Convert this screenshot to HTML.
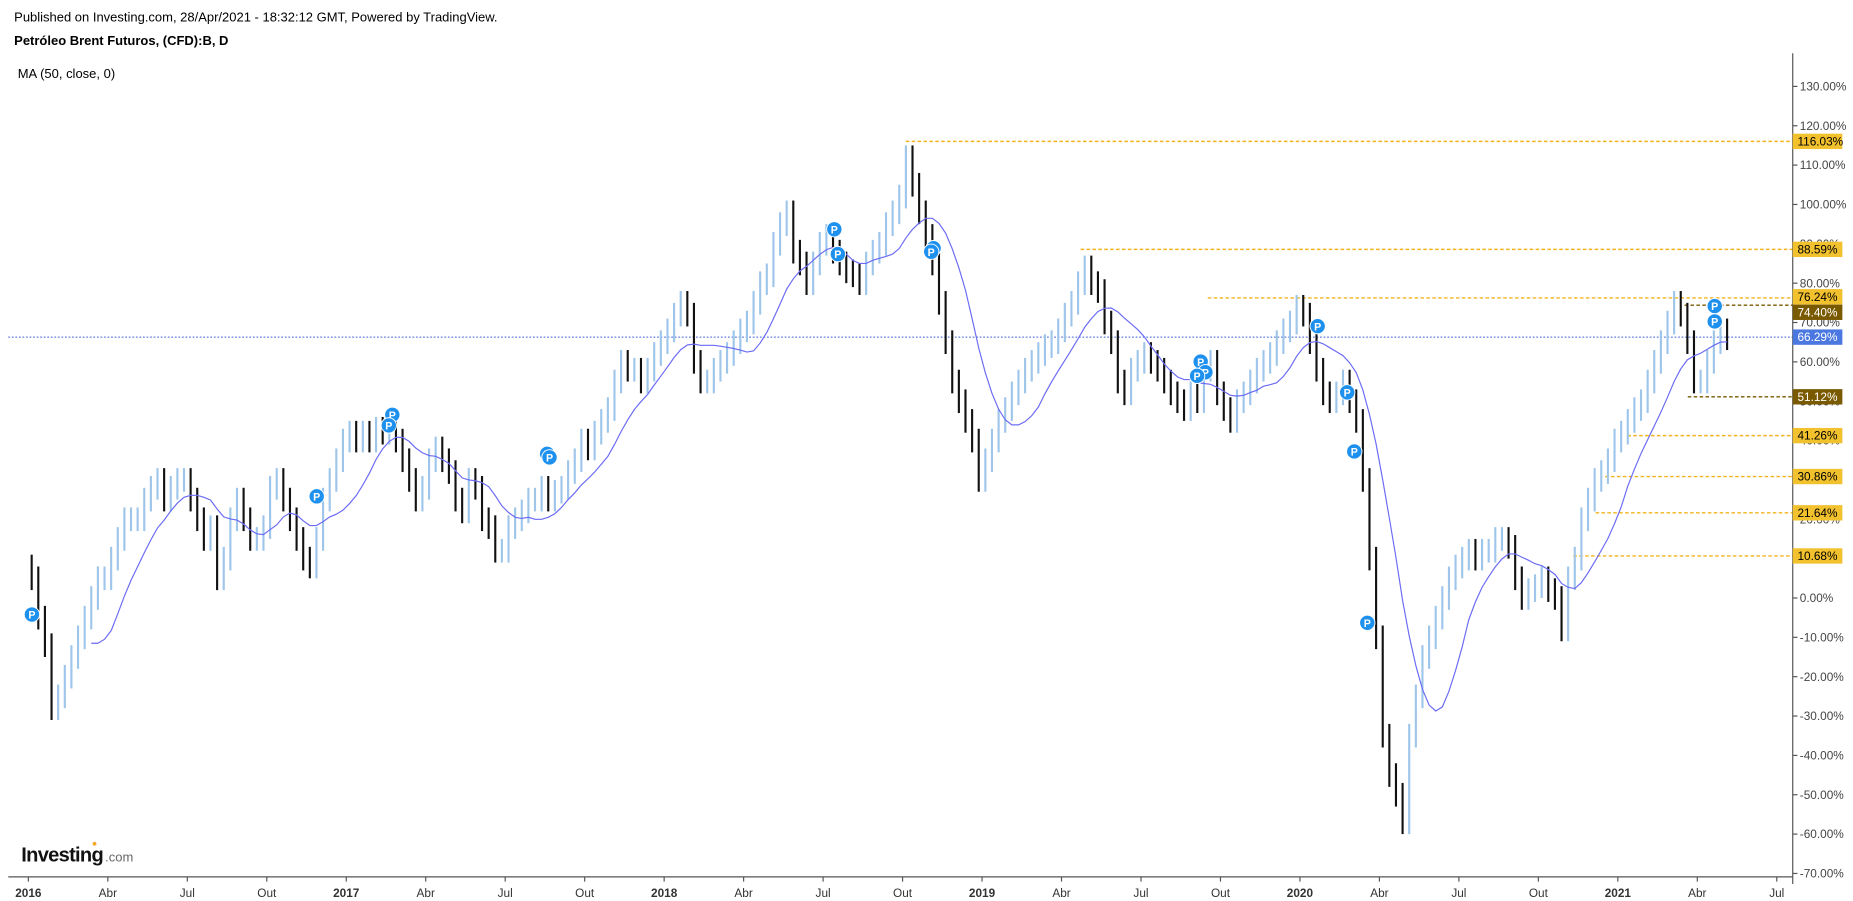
<!DOCTYPE html>
<html><head><meta charset="utf-8"><style>
html,body{margin:0;padding:0;background:#fff;}
svg{display:block;font-family:"Liberation Sans",Arial,sans-serif;}
</style></head><body>
<svg id="chart" width="1853" height="901" viewBox="0 0 1568 762.4" xmlns="http://www.w3.org/2000/svg">
<text x="12" y="18" font-size="11" fill="#000">Published on Investing.com, 28/Apr/2021 - 18:32:12 GMT, Powered by TradingView.</text>
<text x="12" y="38" font-size="11" font-weight="bold" fill="#000">Petróleo Brent Futuros, (CFD):B, D</text>
<text x="15" y="66" font-size="11" fill="#000">MA (50, close, 0)</text>
<g id="levels"></g>
<g id="bars"></g>
<g id="ma"></g>
<g id="markers"></g>
<g id="axes"></g>
<g>
<text x="18" y="729" font-size="17" font-weight="bold" fill="#111" letter-spacing="-0.6">Investing</text>
<text x="89" y="729" font-size="11" fill="#666">.com</text>
<circle cx="80" cy="714" r="1.6" fill="#f5a623"/>
</g>
</svg>
<script>
const closes = [
5,-5,-12,-28, -25,-20,-15,-10, -5,0,5,5, 10,15,20,20, 20,25,28,30, 25,28,30,30,
25,20,15,18, 5,10,20,25, 20,15,15,18, 28,30,25,20, 15,10,8,15, 25,30,35,40,
42,40,42,40, 43,42,44,40, 35,30,25,28, 35,38,35,32, 25,22,30,28, 20,18,12,12,
18,20,22,25, 25,28,25,27, 28,32,35,40, 38,42,45,48, 55,60,58,58, 55,58,62,65,
68,72,75,72, 60,55,55,58, 60,62,65,68, 70,75,80,82, 90,95,98,88, 85,80,85,90,
92,88,85,83, 82,80,85,88, 90,95,98,102, 112,105,98,92, 85,75,65,55, 50,45,40,30,
35,40,45,48, 52,55,58,60, 62,64,65,68, 72,75,80,84, 80,78,70,65, 55,52,58,60,
62,60,58,55, 52,50,48,52, 50,58,60,52, 48,45,50,52, 55,58,60,62, 65,68,70,74,
72,65,58,52, 50,52,55,50, 45,30,10,-10, -35,-45,-50,-57, -35,-25,-15,-10, -5,0,5,8,
10,12,10,12, 12,15,15,13, 5,0,2,3, 5,2,0,-8, 5,10,20,25, 30,32,35,40,
42,45,48,50, 55,60,65,70, 75,72,65,55, 55,60,65,68,66
];
const yTicks = [130,120,110,100,90,80,70,60,50,40,30,20,10,0,-10,-20,-30,-40,-50,-60,-70];
const xTickLabels = ["2016","Abr","Jul","Out","2017","Abr","Jul","Out","2018","Abr","Jul","Out","2019","Abr","Jul","Out","2020","Abr","Jul","Out","2021","Abr","Jul"];
const levelValues = [116.03,88.59,76.24,74.40,51.12,41.26,30.86,21.64,10.68];
const levelStart = [2018.76,2019.31,2019.71,2021.21,2021.22,2021.03,2020.96,2020.93,2020.86];
const levelKind = ["o","o","o","b","b","o","o","o","o"];
const lastPrice = 66.29;
const maPeriod = 10;

const NS="http://www.w3.org/2000/svg";
const y = v => 506 - v*3.33;
const xt = t => 24 + (t-2016)*269;
const xi = i => xt(2016 + (i+0.5)/48);
function mk(tag, attrs, parent){const e=document.createElementNS(NS,tag);for(const k in attrs)e.setAttribute(k,attrs[k]);parent.appendChild(e);return e;}

const bars=document.getElementById('bars');
closes.forEach((c,i)=>{
  const p = i>0?closes[i-1]:c+3;
  const hi=Math.max(p,c)+3, lo=Math.min(p,c)-3;
  const l=mk('line',{x1:xi(i),x2:xi(i),y1:y(hi),y2:y(lo),stroke:c>=p?'#9ec5ea':'#111','stroke-width':1.8},bars);
  
  
});

const maG=document.getElementById('ma');
let pts=[];
for(let i=maPeriod-1;i<closes.length;i++){let s=0;for(let k=0;k<maPeriod;k++)s+=closes[i-k];pts.push(xi(i).toFixed(1)+','+y(s/maPeriod).toFixed(1));}
const ml=mk('polyline',{points:pts.join(' '),fill:'none',stroke:'#6b6bf5','stroke-width':1},maG);



const lv=document.getElementById('levels');
const ax=document.getElementById('axes');
const cp=mk('line',{x1:7,x2:1517,y1:y(lastPrice),y2:y(lastPrice),stroke:'#3f5fd8','stroke-width':0.8,'stroke-dasharray':'1.5,1.5'},lv);


levelValues.forEach((v,i)=>{
  const col=levelKind[i]==='o'?'#f2b41c':'#7a5a00';
  const l=mk('line',{x1:xt(levelStart[i]),x2:1517,y1:y(v),y2:y(v),stroke:col,'stroke-width':1.2,'stroke-dasharray':'3,2'},lv);
  
  
});

const ya=mk('line',{x1:1517,x2:1517,y1:45,y2:748,stroke:'#555','stroke-width':1},ax);


const xa=mk('line',{x1:7,x2:1517,y1:742,y2:742,stroke:'#555','stroke-width':1},ax);


yTicks.forEach(v=>{
  mk('line',{x1:1517,x2:1521,y1:y(v),y2:y(v),stroke:'#555'},ax);
  const t=mk('text',{x:1523,y:y(v)+3.5,'font-size':10,fill:'#444'},ax);
  t.textContent=v.toFixed(2)+'%';
  
  
});
xTickLabels.forEach((s,i)=>{
  const x=xt(2016+i*0.25);
  mk('line',{x1:x,x2:x,y1:742,y2:746,stroke:'#555'},ax);
  const t=mk('text',{x:x,y:759,'font-size':10,fill:'#333','text-anchor':'middle','font-weight':(s.length===4?'bold':'normal')},ax);
  t.textContent=s;
  
  
});
function tag(v,bg,fg,name,dy){
  const g=mk('g',{},ax);
  
  
  mk('rect',{x:1517,y:y(v)-6.5+dy,width:42,height:13,fill:bg},g);
  const t=mk('text',{x:1521,y:y(v)+3.5+dy,'font-size':10,fill:fg},g);
  t.textContent=v.toFixed(2)+'%';
}
levelValues.forEach((v,i)=>tag(v,levelKind[i]==='o'?'#f2c12e':'#7a5a00',levelKind[i]==='o'?'#000':'#fff','level-label',v===76.24?-1:(v===74.40?6:0)));
tag(lastPrice,'#4a78e0','#fff','last-price-label',0);

const markerPos=[[27,520],[268,420],[332,351],[329,360],[463,384],[465,387],[706,194],[709,215],[790,210],[788,213],[1016,306],[1020,315],[1013,318],[1115,276],[1140,332],[1146,382],[1157,527],[1451,259],[1451,272]];
const mg=document.getElementById('markers');
markerPos.forEach(p=>{
  const g=mk('g',{},mg);
  
  
  mk('circle',{cx:p[0],cy:p[1],r:6.5,fill:'#1e90ee',stroke:'#fff','stroke-width':0.8},g);
  const t=mk('text',{x:p[0],y:p[1]+3.5,'font-size':9,'font-weight':'bold',fill:'#fff','text-anchor':'middle'},g);
  t.textContent='P';
});
</script>
</body></html>
